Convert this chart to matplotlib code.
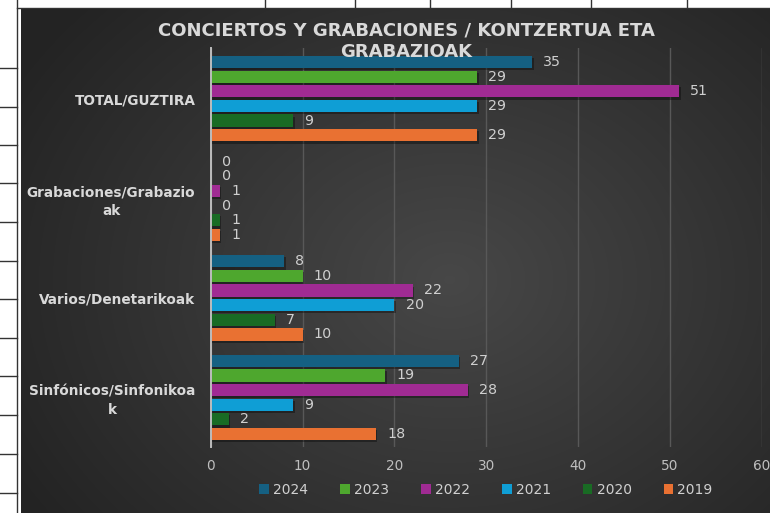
import numpy as np
import matplotlib
matplotlib.use("Agg")
import matplotlib.pyplot as plt
import matplotlib.patheffects as pe
from matplotlib.patches import Patch
from matplotlib.lines import Line2D

plt.rcParams["font.family"] = ["DejaVu Sans"]

# ---------------- data ----------------
categories = ["TOTAL/GUZTIRA", "Grabaciones/Grabazio\nak",
              "Varios/Denetarikoak", "Sinfónicos/Sinfonikoa\nk"]
years = ["2024", "2023", "2022", "2021", "2020", "2019"]
v2024 = [35, 0, 8, 27]
v2023 = [29, 0, 10, 19]
v2022 = [51, 1, 22, 28]
v2021 = [29, 0, 20, 9]
v2020 = [9, 1, 7, 2]
v2019 = [29, 1, 10, 18]
series = [v2024, v2023, v2022, v2021, v2020, v2019]
colors = ["#156082", "#4EA72E", "#A02B93", "#0F9ED5", "#196B24", "#E97132"]
xticks = [0, 10, 20, 30, 40, 50, 60]
title_lines = ["CONCIERTOS Y GRABACIONES / KONTZERTUA ETA", "GRABAZIOAK"]

W, H = 770, 513
fig = plt.figure(figsize=(W / 100, H / 100), dpi=100)
fig.patch.set_facecolor("white")

# ---------- background panel with radial gradient ----------
px0, py0 = 21, 9  # panel left / top in px
bg = fig.add_axes([px0 / W, 0, 1 - px0 / W, 1 - py0 / H])
bg.set_axis_off()
nx, ny = 400, 260
xx, yy = np.meshgrid(np.linspace(px0, W, nx), np.linspace(py0, H, ny))
cx, cy = 450, 280
d = np.sqrt(((xx - cx) / 500) ** 2 + ((yy - cy) / 400) ** 2)
light, dark = 0.28, 0.14
val = np.clip(light - (light - dark) * d, dark, light)
img = np.dstack([val, val, val])
bg.imshow(img, aspect="auto", extent=[0, 1, 0, 1], interpolation="bilinear")
bg.set_xlim(0, 1)
bg.set_ylim(0, 1)

# ---------- table fragments (white strips) ----------
def fx(p):
    return p / W

def fy(p):
    return 1 - p / H

fig.add_artist(Line2D([fx(17), fx(17)], [0, 1], color="#333333", lw=1.0))
fig.add_artist(Line2D([fx(17), 1], [fy(7.5), fy(7.5)], color="#333333", lw=1.0))
for xv in [265, 355, 430, 511, 591, 687]:
    fig.add_artist(Line2D([fx(xv), fx(xv)], [fy(7.5), 1], color="#333333", lw=1.0))
for yv in [68, 107, 145, 183, 222, 261, 299, 338, 376, 415, 454, 493]:
    fig.add_artist(Line2D([0, fx(17)], [fy(yv), fy(yv)], color="#333333", lw=1.0))

# ---------- main axes ----------
ax_l, ax_r = 210.7, 762
ax_t, ax_b = 48, 447
ax = fig.add_axes([ax_l / W, 1 - ax_b / H, (ax_r - ax_l) / W, (ax_b - ax_t) / H])
ax.set_facecolor("none")

group_step = 6.8
shadow = [pe.SimplePatchShadow(offset=(1.0, -1.6), shadow_rgbFace="black", alpha=0.35), pe.Normal()]
for i, (vals, col, yr) in enumerate(zip(series, colors, years)):
    ys = [g * group_step + i for g in range(len(categories))]
    bars = ax.barh(ys, vals, height=0.84, color=col, label=yr, zorder=3)
    for b in bars:
        b.set_path_effects(shadow)
    for yv, v in zip(ys, vals):
        ax.annotate(str(v), xy=(v, yv), xytext=(8, 0), textcoords="offset points",
                    va="center", ha="left", color="#cfcfcf", fontsize=10.3, zorder=4)

ax.set_xlim(0, 60)
ax.set_ylim(3 * group_step + 5 + 0.89, -0.96)
ax.set_xticks(xticks)
ax.set_xticklabels([str(t) for t in xticks])
ax.grid(axis="x", color="#585858", lw=1.0, zorder=0)
ax.set_axisbelow(True)
for s in ["top", "right", "bottom"]:
    ax.spines[s].set_visible(False)
ax.spines["left"].set_color("#bdbdbd")
ax.spines["left"].set_linewidth(1.4)
ax.spines["left"].set_zorder(5)

centers = [g * group_step + 2.5 for g in range(len(categories))]
ax.set_yticks(centers)
ax.set_yticklabels(categories)
ax.tick_params(axis="y", length=0, pad=11, colors="#d9d9d9", labelsize=9.8)
ax.tick_params(axis="x", length=0, pad=9, colors="#bfbfbf", labelsize=9.8)
for lbl in ax.get_yticklabels():
    lbl.set_fontweight("bold")
    lbl.set_multialignment("center")
    lbl.set_linespacing(1.35)

# ---------- title ----------
fig.text(406 / W, fy(31), title_lines[0], ha="center", va="center", color="#d9d9d9",
         fontsize=13, fontweight="bold")
fig.text(406 / W, fy(52), title_lines[1], ha="center", va="center", color="#d9d9d9",
         fontsize=13, fontweight="bold")

# ---------- legend ----------
handles = [Patch(facecolor=c, edgecolor="none", label=y) for c, y in zip(colors, years)]
leg = fig.legend(handles=handles, loc="center", bbox_to_anchor=(486 / W, fy(490)),
                 ncol=6, frameon=False, fontsize=10, handlelength=0.7, handleheight=0.7,
                 handletextpad=0.3, columnspacing=2.3)
for t in leg.get_texts():
    t.set_color("#d0d0d0")

fig.savefig("out.png", dpi=100, facecolor=fig.get_facecolor())
